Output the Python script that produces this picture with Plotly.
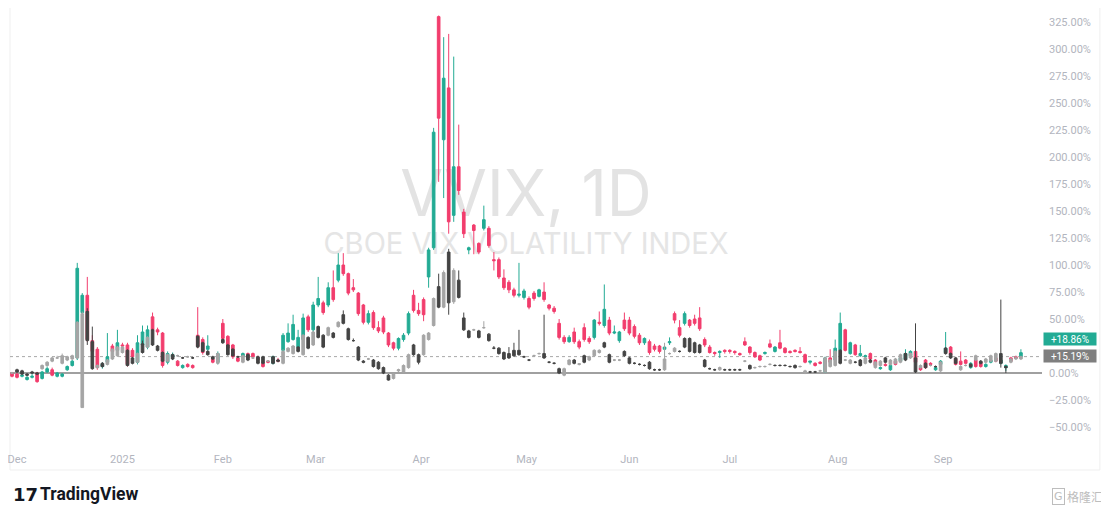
import base64
import plotly.graph_objects as go

# ---------------- data (percent change) ----------------
# coloured series (teal up / pink down)
v_open = [
    0, -1, -3, -6, -4, 0, -5, 1, 3, -3,
    -3, 3, 7, 14, 56, 72, 30, 22, 6, 10,
    25, 21, 26, 26, 21, 10, 26, 24, 52, 40,
    37, 10, 15, 11, 5, 8, 7, 35, 31, 22,
    13, 10, 46, 34, 26, 14, 15, 18, 18, 14,
    9, 11, 9, 12, 21, 29, 31, 24, 31, 52,
    40, 63, 65, 63, 79, 86, 100, 92, 79, 74,
    63, 47, 56, 42, 51, 37, 28, 23, 31, 37,
    72, 58, 68, 89, 116, 330, 216, 264, 146, 191,
    149, 114, 137, 120, 134, 134, 105, 105, 88, 84,
    77, 72, 70, 69, 74, 71, 75, 63, 60, 46,
    33, 29, 38, 29, 42, 32, 33, 47, 44, 49,
    37, 30, 49, 49, 43, 35, 28, 29, 25, 25,
    22, 28, 55, 42, 46, 49, 50, 51, 31, 24,
    19, 19, 21, 21, 20, 18, 29, 24, 19, 16,
    18, 27, 20, 28, 23, 20, 21, 20, 17, 10,
    9, 10, 1, 14, 12, 21, 40, 18, 26, 16,
    15, 18, 12, 4, 8, 3, 11, 11, 13, 16,
    20, 5, 12, 9, 3, 8, 19, 24, 13, 11,
    12, 5, 12, 10, 6, 10, 14, 9, 5, 14,
    15, 15,
]
v_high = [
    1, 0, -1, -3, -1, 1, 2, 6, 5, 1,
    0, 7, 12, 102, 74, 89, 35, 24, 10, 37,
    27, 40, 28, 28, 23, 35, 44, 44, 56, 42,
    38, 20, 19, 12, 8, 9, 8, 61, 33, 35,
    14, 20, 50, 35, 27, 15, 19, 19, 19, 16,
    10, 12, 16, 14, 37, 46, 54, 40, 55, 54,
    66, 89, 67, 84, 95, 111, 111, 93, 87, 75,
    64, 58, 58, 48, 53, 38, 29, 33, 37, 57,
    77, 65, 70, 116, 227, 331, 311, 314, 293, 230,
    152, 117, 138, 121, 155, 136, 112, 107, 96, 86,
    79, 102, 78, 71, 76, 78, 84, 64, 62, 50,
    35, 35, 42, 31, 46, 34, 50, 57, 82, 52,
    44, 39, 56, 52, 45, 37, 33, 31, 27, 26,
    25, 33, 57, 49, 57, 50, 54, 61, 33, 26,
    20, 21, 22, 22, 21, 19, 33, 25, 20, 17,
    20, 31, 25, 40, 24, 21, 22, 24, 18, 11,
    10, 11, 15, 22, 31, 56, 41, 29, 27, 26,
    17, 19, 13, 6, 9, 8, 12, 15, 22, 21,
    21, 6, 13, 10, 6, 12, 38, 25, 14, 20,
    13, 10, 13, 11, 9, 13, 15, 14, 8, 15,
    16, 22,
]
v_low = [
    -4, -5, -4, -7, -5, -9, -6, 0, -3, -4,
    -4, 2, 6, 12, 50, 29, 18, 3, 4, 8,
    14, 19, 20, 6, 12, 8, 24, 22, 38, 35,
    5, 8, 12, 6, 4, 5, 4, 23, 17, 20,
    9, 8, 30, 21, 13, 10, 13, 12, 13, 10,
    5, 9, 8, 10, 20, 28, 30, 22, 29, 38,
    38, 61, 54, 61, 66, 84, 90, 72, 75, 53,
    45, 45, 40, 37, 36, 24, 21, 21, 29, 35,
    56, 53, 48, 79, 114, 177, 162, 129, 140, 165,
    125, 110, 110, 110, 132, 116, 95, 87, 77, 74,
    70, 70, 68, 59, 67, 70, 66, 58, 55, 31,
    27, 28, 27, 22, 29, 27, 31, 44, 42, 35,
    36, 28, 39, 35, 32, 26, 26, 17, 20, 18,
    16, 26, 46, 33, 44, 42, 44, 39, 24, 18,
    16, 14, 18, 18, 17, 16, 25, 17, 14, 11,
    17, 23, 19, 22, 18, 18, 19, 18, 9, 8,
    6, 8, 0, 9, 11, 20, 20, 17, 16, 15,
    14, 12, 6, 3, 6, 2, 7, 10, 12, 15,
    9, 2, 4, 7, 2, 7, 18, 16, 7, 7,
    8, 4, 5, 5, 5, 9, 10, 8, 2, 10,
    13, 14,
]
v_close = [
    -3, -4, -2, -4, -3, -8, 1, 4, -2, 0,
    -1, 6, 11, 97, 72, 31, 20, 5, 8, 15,
    20, 28, 25, 8, 15, 28, 38, 40, 40, 38,
    7, 18, 17, 7, 7, 6, 5, 25, 19, 25,
    10, 18, 32, 23, 15, 11, 18, 14, 15, 12,
    6, 10, 15, 11, 35, 37, 45, 33, 51, 40,
    63, 69, 56, 79, 68, 100, 92, 74, 77, 55,
    47, 55, 42, 39, 38, 26, 23, 32, 35, 55,
    58, 55, 54, 114, 223, 236, 273, 140, 191, 169,
    129, 116, 132, 112, 142, 118, 104, 89, 79, 77,
    72, 73, 76, 61, 69, 77, 68, 60, 57, 33,
    29, 33, 29, 24, 31, 29, 49, 46, 59, 37,
    38, 38, 41, 37, 34, 28, 32, 19, 22, 20,
    24, 29, 49, 35, 55, 44, 46, 41, 26, 19,
    18, 20, 20, 20, 19, 17, 26, 19, 15, 12,
    19, 24, 24, 23, 19, 19, 20, 19, 10, 11,
    7, 9, 14, 10, 23, 46, 21, 28, 17, 18,
    16, 13, 7, 5, 7, 7, 8, 14, 18, 20,
    10, 3, 5, 8, 5, 11, 23, 17, 8, 8,
    9, 9, 6, 6, 8, 12, 11, 12, 7, 11,
    14, 18.86,
]

# grey comparison series (light up / dark down)
g_open = [
    0, 3, 2, -1, 1, 0, 4, 7, 11, 14,
    9, 12, 13, 14, -32, 57, 29, 5, 9, 8,
    13, 16, 19, 21, 14, 10, 27, 24, 40, 25,
    19, 11, 17, 16, 14, 15, 14, 34, 28, 20,
    15, 9, 31, 26, 22, 15, 10, 17, 14, 15,
    15, 11, 15, 12, 9, 20, 18, 24, 17, 33,
    26, 43, 35, 35, 37, 43, 54, 41, 30, 24,
    11, 13, 12, 10, 5, -2, -5, 2, 1, 5,
    26, 17, 17, 31, 44, 80, 61, 112, 66, 86,
    51, 39, 40, 39, 42, 36, 23, 23, 19, 18,
    21, 21, 15, 12, 16, 18, 18, 10, 9, 4,
    -2, 8, 12, 8, 16, 12, 16, 19, 28, 17,
    12, 12, 20, 14, 9, 8, 7, 10, 3, 3,
    3, 18, 20, 20, 32, 32, 28, 26, 12, 4,
    3, 3, 3, 3, 3, 3, 11, 7, 5, 6,
    6, 8, 7, 7, 7, 6, 7, 6, 0, 1,
    1, 2, 1, 6, 7, 21, 12, 9, 10, 12,
    9, 12, 5, 7, 14, 8, 9, 10, 18, 14,
    14, 5, 9, 7, 6, 2, 23, 18, 14, 3,
    7, 8, 12, 11, 10, 11, 11, 18, 6, 10,
    13, 13,
]
g_high = [
    1, 4, 3, 0, 2, 1, 8, 11, 15, 16,
    18, 16, 17, 48, 57, 60, 43, 8, 10, 13,
    23, 25, 25, 22, 15, 19, 30, 34, 41, 26,
    20, 18, 18, 17, 15, 16, 15, 35, 29, 21,
    16, 19, 32, 27, 23, 16, 17, 18, 15, 16,
    16, 12, 16, 13, 22, 24, 26, 25, 36, 34,
    39, 44, 36, 43, 38, 48, 58, 42, 32, 25,
    12, 14, 13, 11, 6, -1, 0, 4, 8, 18,
    27, 18, 36, 38, 70, 92, 95, 115, 97, 95,
    56, 40, 41, 40, 48, 37, 25, 24, 20, 24,
    28, 40, 16, 13, 17, 19, 54, 11, 10, 5,
    5, 13, 13, 9, 17, 16, 22, 22, 29, 18,
    13, 13, 21, 15, 10, 9, 8, 11, 4, 4,
    28, 19, 24, 21, 33, 33, 29, 27, 13, 5,
    4, 6, 4, 4, 4, 4, 12, 8, 6, 7,
    7, 9, 8, 8, 8, 7, 8, 7, 3, 2,
    2, 3, 15, 13, 21, 22, 13, 13, 11, 13,
    15, 13, 11, 12, 15, 13, 14, 18, 19, 19,
    46, 8, 10, 8, 7, 11, 24, 19, 15, 7,
    8, 9, 17, 12, 14, 17, 19, 68, 7, 14,
    16, 16,
]
g_low = [
    -1, 0, -2, -3, -1, -2, 3, 6, 10, 13,
    8, 11, 12, 13, -32, 26, 3, 4, 5, 7,
    12, 15, 18, 6, 8, 9, 18, 23, 25, 20,
    10, 10, 12, 15, 13, 14, 13, 23, 19, 16,
    12, 8, 27, 16, 15, 14, 9, 11, 13, 8,
    8, 10, 8, 10, 8, 19, 17, 19, 16, 22,
    25, 32, 23, 34, 32, 42, 45, 30, 29, 11,
    9, 12, 5, 3, -1, -7, -6, 1, 0, 4,
    16, 8, 16, 30, 43, 60, 60, 54, 64, 69,
    39, 32, 39, 32, 41, 29, 22, 17, 12, 13,
    15, 16, 14, 11, 15, 17, 13, 9, 8, -1,
    -3, 7, 8, 7, 9, 11, 15, 18, 23, 9,
    11, 11, 15, 8, 8, 7, 6, 3, 2, 2,
    2, 17, 19, 19, 23, 19, 18, 18, 5, 3,
    2, 2, 2, 2, 2, 2, 10, 3, 4, 5,
    5, 7, 6, 6, 6, 5, 4, 5, -1, 0,
    0, 1, 0, 5, 6, 8, 11, 8, 9, 6,
    8, 9, 4, 6, 9, 7, 8, 9, 11, 13,
    0, 4, 4, 6, 5, 1, 17, 13, 8, 2,
    6, 5, 11, 8, 9, 10, 10, 5, 0, 9,
    12, 12,
]
g_close = [
    0, 1, -1, -2, 0, -1, 7, 10, 14, 14,
    16, 15, 16, 47, 55, 30, 4, 7, 6, 12,
    22, 24, 24, 7, 9, 18, 19, 33, 26, 21,
    11, 17, 13, 16, 14, 15, 14, 24, 20, 17,
    13, 18, 28, 17, 16, 15, 16, 12, 14, 9,
    9, 11, 9, 11, 20, 23, 25, 20, 35, 23,
    38, 33, 24, 42, 33, 47, 46, 31, 30, 12,
    10, 13, 6, 4, 0, -6.5, -1, 3, 7, 17,
    17, 10, 35, 37, 69, 61, 93, 65, 95, 70,
    40, 33, 40, 33, 42, 30, 23, 18, 13, 14,
    16, 17, 15, 12, 16, 18, 14, 10, 9, 0,
    4, 12, 9, 8.5, 10, 15, 21, 21, 24, 10,
    12, 12, 16, 9, 9, 8, 7, 4, 3, 3,
    13, 18, 23, 20, 24, 20, 19, 19, 6, 4,
    3, 5, 3, 3, 3, 3, 11, 4, 5, 6,
    6, 8, 7, 7, 7, 6, 5, 6, 2, 1,
    1, 2, 14, 12, 20, 9, 12, 12, 10, 7,
    14, 10, 10, 11, 10, 12, 13, 17, 12, 18,
    1, 7, 5, 7, 6, 10, 18, 14, 9, 6,
    7, 6, 16, 9, 13, 16, 18, 9, 5, 13,
    14, 15.19,
]

month_pos = [1, 22, 42, 60.5, 81.5, 102.5, 123, 143, 164.5, 185.5]
month_labels = ["Dec", "2025", "Feb", "Mar", "Apr", "May", "Jun", "Jul", "Aug", "Sep"]
# 25% is hidden behind the last-value labels in the reference
y_ticks = [-50, -25, 0, 50, 75, 100, 125, 150, 175, 200, 225, 250, 275, 300, 325]

TEAL = "#22ab94"
PINK = "#f23d6d"
G_UP = "#a5a5a5"
G_DN = "#444444"

n = len(v_close)
bars = list(range(n))


def fmt(v):
    s = f"{abs(v):.2f}%"
    return ("\u2212" + s) if v < 0 else s


fig = go.Figure()
fig.add_trace(go.Candlestick(
    x=bars, open=v_open, high=v_high, low=v_low, close=v_close,
    increasing=dict(line=dict(color=TEAL, width=1), fillcolor=TEAL),
    decreasing=dict(line=dict(color=PINK, width=1), fillcolor=PINK),
    whiskerwidth=0, hoverinfo="skip", showlegend=False,
))
fig.add_trace(go.Candlestick(
    x=bars, open=g_open, high=g_high, low=g_low, close=g_close,
    increasing=dict(line=dict(color=G_UP, width=1), fillcolor=G_UP),
    decreasing=dict(line=dict(color=G_DN, width=1), fillcolor=G_DN),
    whiskerwidth=0, hoverinfo="skip", showlegend=False,
))

# The page body has an 8px margin, so the figure starts at page (8, 8).
FW, FH = 1101, 511          # figure size
PW, PH = 1034, 439          # plot area size (page x 8..1042, y 8..447)


def px(page_x):
    return (page_x - 8) / PW


def py(page_y):
    return 1 - (page_y - 8) / PH


svg = f'''<svg xmlns="http://www.w3.org/2000/svg" width="{PW}" height="{PH}" viewBox="0 0 {PW} {PH}">
<text x="517" y="208" font-family="Inter, Roboto, sans-serif" font-size="64" fill="#e3e3e3" text-anchor="middle" textLength="252" lengthAdjust="spacingAndGlyphs">VVIX, 1D</text>
<text x="517" y="246" font-family="Inter, Roboto, sans-serif" font-size="30" fill="#e5e5e5" text-anchor="middle" textLength="406" lengthAdjust="spacingAndGlyphs">CBOE VIX VOLATILITY INDEX</text>
</svg>'''
svg_uri = "data:image/svg+xml;base64," + base64.b64encode(svg.encode("utf-8")).decode("ascii")

fig.update_layout(
    width=FW, height=FH,
    margin=dict(l=0, r=FW - PW, t=0, b=FH - PH),
    paper_bgcolor="white", plot_bgcolor="white",
    showlegend=False, boxgap=0.25,
    font=dict(family="Roboto, Inter, sans-serif"),
    xaxis=dict(
        range=[-0.4, 205.2], tickvals=month_pos, ticktext=month_labels,
        showgrid=False, zeroline=False, showline=False, ticks="",
        tickfont=dict(size=11, color="#b2b5be"), ticklabelstandoff=4,
        ticklabeloverflow="allow",
        rangeslider=dict(visible=False), fixedrange=True,
    ),
    yaxis=dict(
        side="right", range=[-68.5, 338.0], tickvals=y_ticks,
        ticktext=[fmt(v) for v in y_ticks],
        showgrid=False, zeroline=False, showline=False, ticks="",
        tickfont=dict(size=11, color="#b2b5be"), ticklabelstandoff=6,
        fixedrange=True,
    ),
    images=[dict(source=svg_uri, xref="paper", yref="paper", x=0, y=1,
                 sizex=1, sizey=1, xanchor="left", yanchor="top",
                 sizing="stretch", layer="below")],
)

# frame, zero line and last-price dotted line
fig.add_shape(type="rect", xref="paper", yref="paper",
              x0=0, x1=px(1100), y0=py(470), y1=1.05,
              line=dict(color="#efefef", width=1), layer="below")
fig.add_shape(type="line", xref="paper", yref="y", x0=0, x1=1,
              y0=0, y1=0, line=dict(color="#a0a0a0", width=2), layer="below")
fig.add_shape(type="line", xref="paper", yref="y", x0=0, x1=1,
              y0=g_close[-1], y1=g_close[-1],
              line=dict(color="#a8a8a8", width=1, dash="dot"), layer="below")

# last value labels on the price scale (stacked like the reference)
fig.add_annotation(xref="paper", yref="y", x=1, y=v_close[-1], yshift=14,
                   xanchor="left", yanchor="middle", xshift=1, text=f"+{v_close[-1]:.2f}%",
                   showarrow=False, bgcolor=TEAL, font=dict(color="white", size=10),
                   borderpad=0, width=52, height=12)
fig.add_annotation(xref="paper", yref="y", x=1, y=g_close[-1], yshift=1,
                   xanchor="left", yanchor="middle", xshift=1, text=f"+{g_close[-1]:.2f}%",
                   showarrow=False, bgcolor="#7f7f7f", font=dict(color="white", size=10),
                   borderpad=0, width=52, height=12)

# footer logos
fig.add_annotation(xref="paper", yref="paper", x=px(9), y=py(494),
                   xanchor="left", yanchor="middle", showarrow=False,
                   text="<b>17</b>", font=dict(family="DejaVu Sans", size=18, color="#131722"))
fig.add_annotation(xref="paper", yref="paper", x=px(36), y=py(494),
                   xanchor="left", yanchor="middle", showarrow=False,
                   text="<b>TradingView</b>", font=dict(family="Roboto", size=17.5, color="#131722"))
fig.add_annotation(xref="paper", yref="paper", x=px(1052), y=py(496),
                   xanchor="left", yanchor="middle", showarrow=False,
                   text="G", font=dict(family="DejaVu Sans", size=11, color="#bdbdbd"),
                   bordercolor="#bdbdbd", borderwidth=1, borderpad=1)
fig.add_annotation(xref="paper", yref="paper", x=px(1104), y=py(496),
                   xanchor="right", yanchor="middle", showarrow=False, borderpad=0,
                   text="格隆汇", font=dict(family="Noto Sans CJK SC", size=12, color="#bdbdbd"))

fig.write_html("out.html")
